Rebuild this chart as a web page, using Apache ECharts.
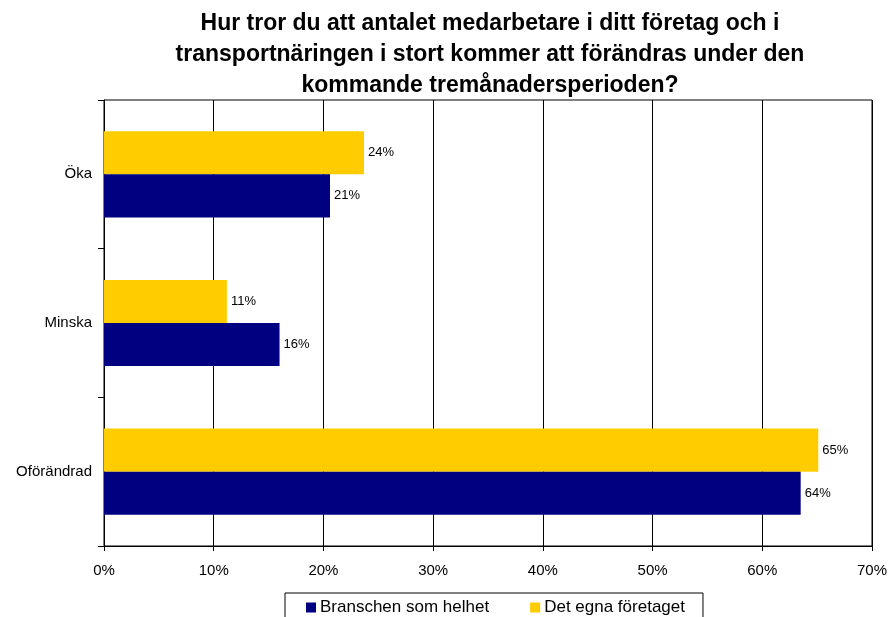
<!DOCTYPE html>
<html lang="sv">
<head>
    <meta charset="UTF-8">
    <title>Antal medarbetare</title>
    <script src="https://cdn.jsdelivr.net/npm/echarts@6/dist/echarts.min.js"></script>
</head>
<style>
    *{
        margin: 0;
        padding: 0;
    }
    html, body{
        width: 100%;
        height: 100%;
        overflow: hidden;
        background: #fff;
    }
    .container{
        width: 891px;
        height: 617px;
    }
</style>
<body>
<div class="container"></div>
<script>
    // kategorier, uppifrån och ned
    let categories = ['Öka', 'Minska', 'Oförändrad'];
    let branschen = [20.6, 16.0, 63.5];   // Branschen som helhet
    let foretaget = [23.7, 11.2, 65.1];   // Det egna företaget
    let xTicks = [0, 10, 20, 30, 40, 50, 60, 70];

    let font = '"Liberation Sans", Arial, sans-serif';
    let container = document.querySelector('.container');
    let mycharts = echarts.init(container);

    let labelOpt = {
        show: true,
        position: 'right',
        distance: 4,
        color: '#000',
        fontFamily: font,
        fontSize: 13,
        formatter: p => Math.round(p.value) + '%'
    };

    let option = {
        backgroundColor: '#fff',
        animation: false,
        title: {
            text: 'Hur tror du att antalet medarbetare i ditt företag och i\ntransportnäringen i stort kommer att förändras under den\nkommande tremånadersperioden?',
            left: 490,
            top: 8,
            textAlign: 'center',
            padding: 0,
            textStyle: {
                fontFamily: font,
                fontSize: 23,
                fontWeight: 'bold',
                lineHeight: 31,
                color: '#000'
            }
        },
        legend: {
            data: ['Branschen som helhet', 'Det egna företaget'],
            left: 285,
            top: 593,
            padding: [6, 18, 8, 21],
            itemGap: 41,
            itemWidth: 10,
            itemHeight: 10,
            borderColor: '#000',
            borderWidth: 1,
            borderRadius: 0,
            icon: 'rect',
            textStyle: {
                fontFamily: font,
                fontSize: 17,
                color: '#000',
                padding: [0, 0, 0, -1]
            }
        },
        grid: {
            left: 104,
            right: 19,
            top: 100,
            bottom: 71,
            show: true,
            borderColor: '#000',
            borderWidth: 1,
            containLabel: false
        },
        xAxis: {
            type: 'value',
            min: 0,
            max: 70,
            interval: 10,
            axisLine: {show: true, lineStyle: {color: '#000', width: 1}},
            axisTick: {show: true, length: 5, lineStyle: {color: '#000'}},
            splitLine: {show: true, lineStyle: {color: '#000', width: 1}},
            axisLabel: {
                margin: 17,
                color: '#000',
                fontFamily: font,
                fontSize: 15,
                formatter: v => xTicks.includes(v) ? v + '%' : ''
            }
        },
        yAxis: {
            type: 'category',
            data: categories,
            inverse: true,
            axisLine: {show: true, lineStyle: {color: '#000', width: 1}},
            axisTick: {show: true, length: 6, lineStyle: {color: '#000'}},
            axisLabel: {
                margin: 12,
                color: '#000',
                fontFamily: font,
                fontSize: 15
            }
        },
        series: [
            {
                name: 'Det egna företaget',
                type: 'bar',
                data: foretaget,
                itemStyle: {color: '#FFCC00'},
                barGap: '0%',
                barCategoryGap: '42%',
                label: labelOpt
            },
            {
                name: 'Branschen som helhet',
                type: 'bar',
                data: branschen,
                itemStyle: {color: '#000080'},
                barGap: '0%',
                barCategoryGap: '42%',
                label: labelOpt
            }
        ]
    };
    mycharts.setOption(option);
</script>
</body>
</html>
